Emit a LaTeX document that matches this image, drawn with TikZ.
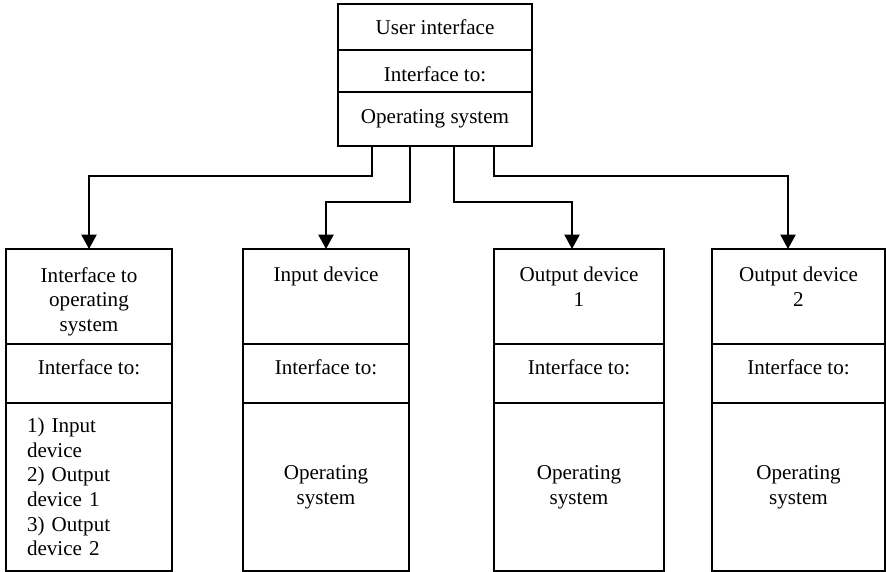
\documentclass[tikz,border=0pt]{standalone}
\usepackage{fontspec}
\setmainfont{Liberation Serif}
\usetikzlibrary{positioning,arrows.meta}

\begin{document}
\begin{tikzpicture}[font=\fontsize{15}{17.5}\selectfont,
    cell/.style={draw, line width=1.3pt, outer sep=0pt, inner sep=0pt, align=center},
    topcell/.style={cell, minimum width=4.85cm},
    devcell/.style={cell, minimum width=4.15cm},
    midcell/.style={devcell, minimum height=1.475cm, text depth=0.3cm},
    headtxt/.style={anchor=north, align=center},
    arr/.style={line width=1.3pt, -{Triangle[width=0.38cm,length=0.36cm]}}]
     \useasboundingbox (0,0) rectangle (22.15,-14.3);

     % user interface
     \node[topcell, minimum height=1.15cm] (ui) at (10.875,-0.675) {User interface};
     \node[topcell, minimum height=1.05cm, text height=0.55cm, below=0cm of ui] (ifc) {Interface to:};
     \node[topcell, minimum height=1.35cm, below=0cm of ifc] (os) {Operating system};

     % interface to operating system
     \node[devcell, minimum height=2.375cm, anchor=north] (head1) at (2.225,-6.225) {};
     \node[headtxt] (name1) at ([yshift=-0.33cm]head1.north) {Interface to\\operating\\system};
     \node[midcell, below=0cm of head1] (mid1) {Interface to:};
     \node[devcell, minimum height=4.2cm, below=0cm of mid1, align=left, text width=3.1cm] (low1)
          {1) Input\\device\\2) Output\\device 1\\3) Output\\device 2};

     % input device
     \node[devcell, minimum height=2.375cm, anchor=north] (head2) at (8.15,-6.225) {};
     \node[headtxt] (name2) at ([yshift=-0.33cm]head2.north) {Input device};
     \node[midcell, below=0cm of head2] (mid2) {Interface to:};
     \node[devcell, minimum height=4.2cm, below=0cm of mid2] (low2) {Operating\\system};

     % output device 1
     \node[devcell, minimum width=4.25cm, minimum height=2.375cm, anchor=north] (head3) at (14.475,-6.225) {};
     \node[headtxt] (name3) at ([yshift=-0.33cm]head3.north) {Output device\\1};
     \node[midcell, minimum width=4.25cm, below=0cm of head3] (mid3) {Interface to:};
     \node[devcell, minimum width=4.25cm, minimum height=4.2cm, below=0cm of mid3] (low3) {Operating\\system};

     % output device 2
     \node[devcell, minimum width=4.325cm, minimum height=2.375cm, anchor=north] (head4) at (19.9625,-6.225) {};
     \node[headtxt] (name4) at ([yshift=-0.33cm]head4.north) {Output device\\2};
     \node[midcell, minimum width=4.325cm, below=0cm of head4] (mid4) {Interface to:};
     \node[devcell, minimum width=4.325cm, minimum height=4.2cm, below=0cm of mid4] (low4) {Operating\\system};

     % connectors
     \draw[arr] ([xshift=-1.575cm]os.south) -- ++(0,-0.75) -| (head1.north);
     \draw[arr] ([xshift=-0.625cm]os.south) -- ++(0,-1.4) -| (head2.north);
     \draw[arr] ([xshift=0.475cm]os.south) -- ++(0,-1.4) -| ([xshift=-0.175cm]head3.north);
     \draw[arr] ([xshift=1.475cm]os.south) -- ++(0,-0.75) -| ([xshift=-0.2625cm]head4.north);

\end{tikzpicture}
\end{document}
